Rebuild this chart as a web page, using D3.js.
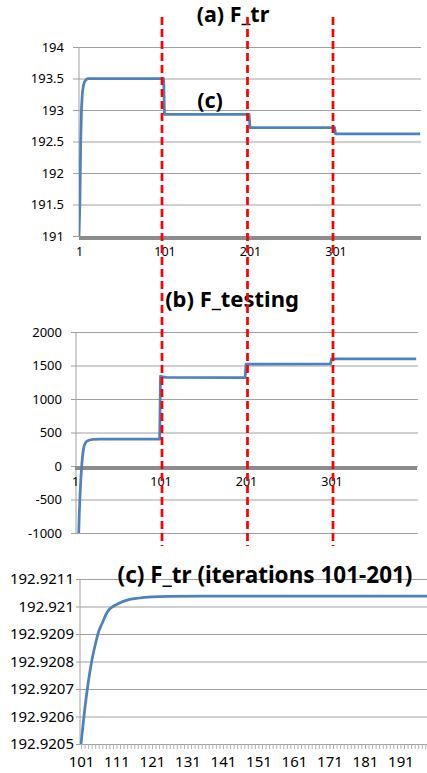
<!DOCTYPE html>
<html>
<head>
<meta charset="utf-8">
<script src="https://cdn.jsdelivr.net/npm/d3@7"></script>
<style>
  body { margin: 0; background: #fff; }
  svg text { font-family: "Noto Sans", "Open Sans", sans-serif; fill: #000; }
  .title { font-weight: bold; }
</style>
</head>
<body>
<div id="my_dataviz"></div>
<script>
// series (a): F_tr, iteration -> value (keypoints, flat between them)
var trIter = [1, 2, 3, 4, 5, 6, 7, 8, 10, 12, 100, 101, 200, 201, 300, 301, 400];
var trValue = [191.0, 191.5, 192.5, 193.05, 193.28, 193.38, 193.43, 193.46, 193.49, 193.5,
  193.5, 192.93, 192.93, 192.72, 192.72, 192.62, 192.62];

// series (b): F_testing
var testIter = [1, 2, 3, 4, 5, 6, 7, 8, 9, 10, 11, 12, 13, 14, 16, 18, 22, 30, 100,
  101, 104, 108, 200, 201, 300, 301, 400];
var testValue = [-5000, -3500, -2400, -1700, -1150, -720, -400, -160, 30, 170, 260, 310,
  340, 360, 378, 388, 396, 400, 400, 1340, 1330, 1322, 1320, 1520, 1525, 1600, 1600];

// series (c): F_tr zoomed on iterations 101-201
var zoomIter = [101, 102, 103, 104, 105, 106, 107, 108, 109, 110, 112, 114, 117, 121, 126, 135, 201];
var zoomValue = [192.9205, 192.92062, 192.92072, 192.9208, 192.92086, 192.92091, 192.92094,
  192.92097, 192.92099, 192.921, 192.921014, 192.921023, 192.92103, 192.921035, 192.921037,
  192.921038, 192.921038];

// ticks and labels
var trTicks = [191, 191.5, 192, 192.5, 193, 193.5, 194];
var testTicks = [-1000, -500, 0, 500, 1000, 1500, 2000];
var zoomTicks = [192.9205, 192.9206, 192.9207, 192.9208, 192.9209, 192.921, 192.9211];
var mainLabels = [1, 101, 201, 301];
var zoomLabels = [101, 111, 121, 131, 141, 151, 161, 171, 181, 191];
var phaseStarts = [101, 201, 301];

var lineColor = "#4f81bd";
var gridColor = "#a0a0a0";

var svg = d3
  .select("#my_dataviz")
  .append("svg")
  .attr("width", 427)
  .attr("height", 773);

function toPoints(xs, ys) {
  return xs.map(function (d, i) {
    return { x: d, y: ys[i] };
  });
}

var fmt = function (d) {
  return String(+d.toFixed(4));
};

// draws one panel: grid, axes, line
function drawPanel(opt) {
  var x = d3.scaleLinear().domain(opt.xDomain).range(opt.xRange);
  var y = d3.scaleLinear().domain(opt.yDomain).range(opt.yRange);
  var g = svg.append("g");
  var left = opt.left;
  var right = opt.right;

  // gridlines and left axis labels
  g.append("g")
    .attr("transform", "translate(" + left + ",0)")
    .call(d3.axisLeft(y).tickValues(opt.yTicks).tickSize(opt.yTickSize).tickPadding(opt.yPad).tickFormat(fmt))
    .call(function (a) {
      a.select(".domain").remove();
      a.selectAll("line").attr("x2", right - left).attr("x1", -opt.yTickSize).attr("stroke", gridColor);
      a.selectAll("text").style("font-size", opt.yFont + "px");
    });

  // left axis line
  g.append("line")
    .attr("x1", left).attr("x2", left)
    .attr("y1", y.range()[1]).attr("y2", y.range()[0])
    .attr("stroke", gridColor);

  // clip for the line
  var clipId = "clip" + opt.id;
  svg.append("clipPath").attr("id", clipId)
    .append("rect")
    .attr("x", left).attr("y", y.range()[1] - 2)
    .attr("width", right - left).attr("height", y.range()[0] - y.range()[1] + 2);

  // bottom category axis with a tick per iteration
  var allIter = d3.range(opt.xDomain[0], opt.xDomain[1]);
  g.append("g")
    .attr("transform", "translate(0," + y(opt.axisAt) + ")")
    .call(d3.axisBottom(x).tickValues(allIter).tickSize(opt.xTickSize).tickPadding(opt.xPad)
      .tickFormat(function (d) { return opt.xLabels.indexOf(d) >= 0 ? d : ""; }))
    .call(function (a) {
      a.select(".domain").attr("stroke", gridColor).attr("d", "M" + left + ",0.5H" + right);
      a.selectAll("line").attr("stroke", opt.xTickColor).attr("shape-rendering", opt.crisp ? "crispEdges" : null);
      a.selectAll("text").style("font-size", opt.xFont + "px");
    });

  g.append("path")
    .datum(opt.data)
    .attr("clip-path", "url(#" + clipId + ")")
    .attr("fill", "none")
    .attr("stroke", lineColor)
    .attr("stroke-width", 2.75)
    .attr("stroke-linejoin", "round")
    .attr("d", d3.line().curve(opt.curve || d3.curveLinear)
      .x(function (d) { return x(d.x); }).y(function (d) { return y(d.y); }));

  g.append("text")
    .attr("class", "title")
    .attr("x", opt.titleX).attr("y", opt.titleY)
    .attr("text-anchor", "middle")
    .style("font-size", opt.titleFont + "px")
    .text(opt.title);

  return x;
}

var xa = drawPanel({
  id: "a", data: toPoints(trIter, trValue),
  xDomain: [1, 401], xRange: [79, 421], yDomain: [191, 194], yRange: [236, 47],
  left: 79, right: 421, yTicks: trTicks, yTickSize: 6, yPad: 9, yFont: 13,
  axisAt: 191, xTickSize: 4, xPad: 7, xFont: 12.5, xTickColor: "#8c8c8c", crisp: true, xLabels: mainLabels,
  title: "(a) F_tr", titleX: 233, titleY: 22, titleFont: 21.5
});

var xb = drawPanel({
  id: "b", data: toPoints(testIter, testValue),
  xDomain: [1, 401], xRange: [75, 417], yDomain: [-1000, 2000], yRange: [533, 332],
  left: 76, right: 418, yTicks: testTicks, yTickSize: 5, yPad: 9, yFont: 13,
  axisAt: 0, xTickSize: 4, xPad: 7, xFont: 12.5, xTickColor: "#8c8c8c", crisp: true, xLabels: mainLabels,
  title: "(b) F_testing", titleX: 232, titleY: 307, titleFont: 22
});

drawPanel({
  id: "c", data: toPoints(zoomIter, zoomValue), curve: d3.curveMonotoneX,
  xDomain: [101, 202], xRange: [81, 439.5], yDomain: [192.9205, 192.9211], yRange: [744, 579],
  left: 80, right: 427, yTicks: zoomTicks, yTickSize: 4, yPad: 2, yFont: 15,
  axisAt: 192.9205, xTickSize: 5, xPad: 7, xFont: 15, xTickColor: "#b0b0b0", xLabels: zoomLabels,
  title: "(c) F_tr (iterations 101-201)", titleX: 265, titleY: 583, titleFont: 22.5
});

// "(c)" marker for the zoomed phase in panel (a)
svg.append("text")
  .attr("class", "title")
  .attr("x", 210).attr("y", 108)
  .attr("text-anchor", "middle")
  .style("font-size", "21.5px")
  .text("(c)");

// red dashed phase boundaries across panels (a) and (b)
svg.selectAll(".phase")
  .data(phaseStarts)
  .enter()
  .append("line")
  .attr("class", "phase")
  .attr("x1", function (d) { return (xa(d) + xb(d)) / 2 - 0.5; })
  .attr("x2", function (d) { return (xa(d) + xb(d)) / 2 - 0.5; })
  .attr("y1", 17)
  .attr("y2", 546)
  .attr("stroke", "#ff0000")
  .attr("stroke-width", 2.75)
  .style("stroke-dasharray", "8,4");
</script>
</body>
</html>
